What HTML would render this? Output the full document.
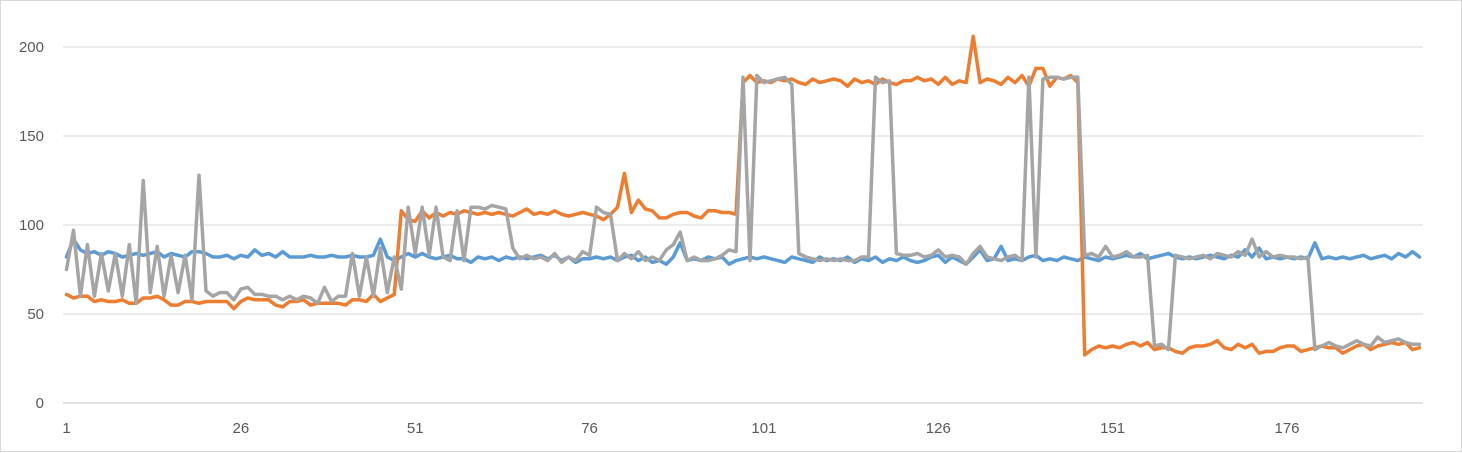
<!DOCTYPE html>
<html><head><meta charset="utf-8"><style>
html,body{margin:0;padding:0;background:#fff}
#wrap{position:relative;width:1462px;height:452px;box-sizing:border-box;border:1px solid #d9d9d9;background:#fff}
svg{position:absolute;left:0;top:0}
text{font-family:"Liberation Sans",sans-serif;font-size:15px;fill:#595959}
</style></head><body>
<div id="wrap">
<svg id="chart" width="1462" height="452"></svg>
</div>
<script>
const yTicks=[0,50,100,150,200];
const xTickLabels=[1,26,51,76,101,126,151,176];
const seriesBlue=[82,92,86,84,85,83,85,84,82,83,84,83,84,85,82,84,83,82,85,85,84,82,82,83,81,83,82,86,83,84,82,85,82,82,82,83,82,82,83,82,82,83,82,82,83,92,82,80,82,84,82,84,82,81,82,83,81,81,79,82,81,82,80,82,81,82,81,82,83,81,83,80,82,79,81,81,82,81,82,80,82,83,80,82,79,80,78,82,90,80,81,80,82,81,82,78,80,81,82,81,82,81,80,79,82,81,80,79,82,80,81,80,82,79,81,80,82,79,81,80,82,80,79,80,82,83,79,82,80,78,82,86,80,81,88,80,81,80,82,83,80,81,80,82,81,80,82,81,80,82,81,82,83,82,84,81,82,83,84,82,81,82,81,82,83,82,81,83,82,86,82,87,81,82,81,82,81,82,81,90,81,82,81,82,81,82,83,81,82,83,81,84,82,85,82];
const seriesOrange=[61,59,60,60,57,58,57,57,58,56,56,59,59,60,58,55,55,57,57,56,57,57,57,57,53,57,59,58,58,58,55,54,57,57,58,55,56,56,56,56,55,58,58,57,61,57,59,61,108,103,102,108,104,107,105,107,106,108,107,106,107,106,107,106,105,107,109,106,107,106,108,106,105,106,107,106,105,103,106,110,129,107,114,109,108,104,104,106,107,107,105,104,108,108,107,107,106,180,184,180,181,180,182,181,182,180,179,182,180,181,182,181,178,182,180,181,179,182,180,179,181,181,183,181,182,179,183,179,181,180,206,180,182,181,179,183,180,184,178,188,188,178,183,182,184,180,27,30,32,31,32,31,33,34,32,34,30,31,31,29,28,31,32,32,33,35,31,30,33,31,33,28,29,29,31,32,32,29,30,31,32,31,31,28,30,32,33,30,32,33,34,33,34,30,31];
const seriesGray=[75,97,60,89,60,84,63,84,60,89,56,125,62,88,60,83,62,83,58,128,63,60,62,62,58,64,65,61,61,60,60,58,60,58,60,59,56,65,57,60,60,84,60,82,60,87,62,82,64,110,84,110,83,110,82,80,108,80,110,110,109,111,110,109,87,81,83,81,82,80,84,79,82,80,85,83,110,107,106,80,84,81,85,80,82,80,86,89,96,80,82,80,80,81,83,86,85,183,80,184,180,181,182,183,179,84,82,81,80,81,80,81,80,80,82,82,183,180,181,84,83,83,84,82,83,86,82,83,82,78,84,88,82,81,80,82,83,80,183,82,182,183,183,182,183,183,83,84,82,88,82,83,85,82,82,83,32,33,30,83,82,81,82,83,81,84,83,82,85,83,92,82,85,82,83,82,82,81,82,30,32,34,32,31,33,35,33,32,37,34,35,36,34,33,33];

const NS="http://www.w3.org/2000/svg";
const svg=document.getElementById('chart');
const L=62,R=1422,T=46,B=402,N=seriesBlue.length;
const step=(R-L)/N;
const xPos=i=>L+step*(i+0.5);
const yPos=v=>B-(v/200)*(B-T);
function mk(tag,attrs){const e=document.createElementNS(NS,tag);for(const k in attrs)e.setAttribute(k,attrs[k]);svg.appendChild(e);return e;}
yTicks.forEach(v=>{
  const g=mk('line',{x1:L,x2:R,y1:yPos(v),y2:yPos(v),stroke:'#d9d9d9','stroke-width':v===0?1.5:1});
  
  
  const t=mk('text',{x:43,y:yPos(v)+5,'text-anchor':'end'});
  t.textContent=v;
  
  
});
xTickLabels.forEach(c=>{
  const t=mk('text',{x:xPos(c-1),y:432,'text-anchor':'middle'});
  t.textContent=c;
  
  
});
[[seriesBlue,'#5b9bd5','series-blue'],[seriesOrange,'#ed7d31','series-orange'],[seriesGray,'#a5a5a5','series-gray']].forEach(([d,c,n])=>{
  const p=mk('polyline',{points:d.map((v,i)=>xPos(i).toFixed(1)+','+yPos(v).toFixed(1)).join(' '),fill:'none',stroke:c,'stroke-width':3.5,'stroke-linejoin':'round','stroke-linecap':'round'});
  
  
});
</script>
</body></html>
